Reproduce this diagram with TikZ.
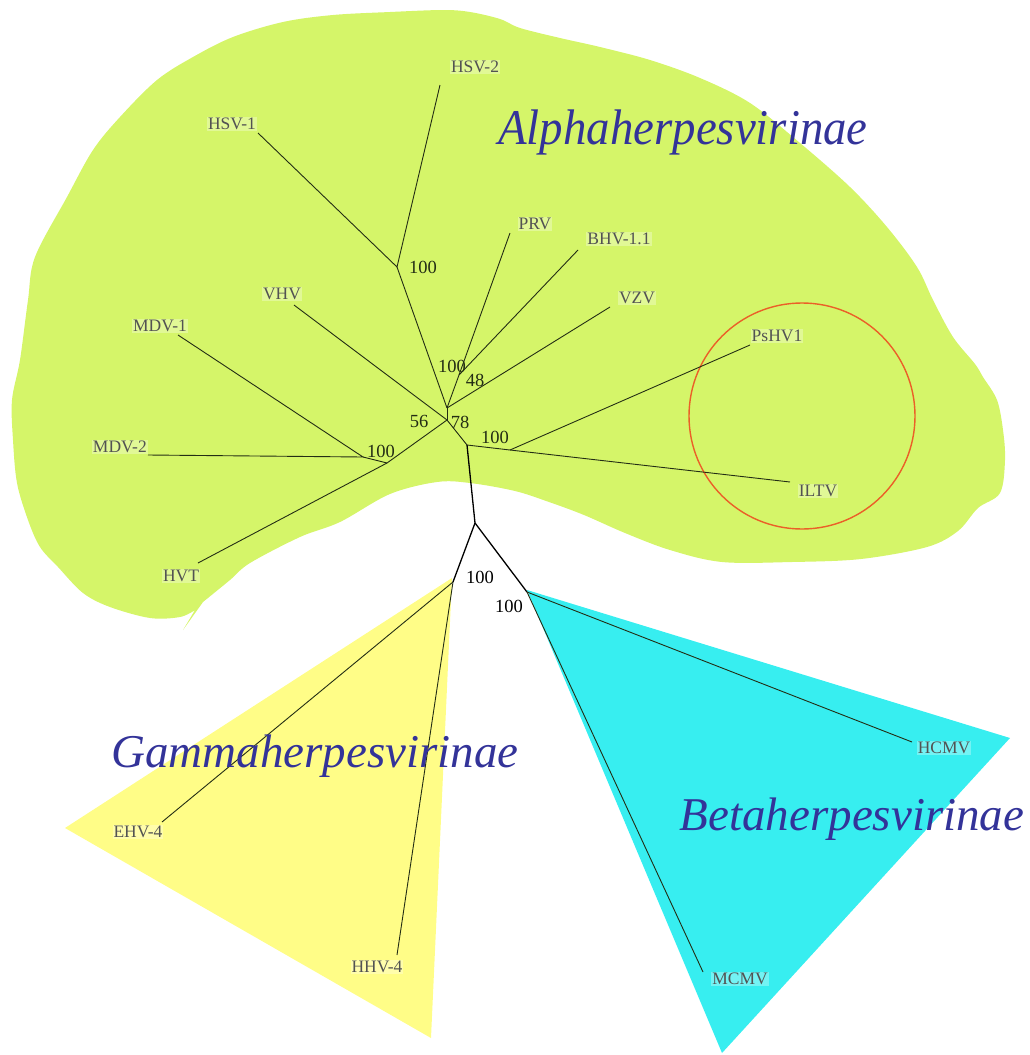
\documentclass[tikz,border=0pt]{standalone}
\usepackage{fontspec}
\setmainfont{Liberation Serif}
\definecolor{alphagreen}{RGB}{213,245,105}
\definecolor{gammayellow}{RGB}{255,253,135}
\definecolor{betacyan}{RGB}{55,238,240}
\definecolor{titleblue}{RGB}{51,51,153}
\definecolor{ringred}{RGB}{235,95,40}
\definecolor{branchcol}{RGB}{35,45,20}
\tikzset{
  branch/.style={line width=0.9pt, draw=branchcol},
  trunk/.style={line width=1.3pt, draw=black},
  taxon/.style={font=\fontsize{17.5}{20}\selectfont, text=black!68, inner sep=1pt,
                fill=white, fill opacity=0.3, text opacity=1},
  boot/.style={font=\fontsize{18.5}{20}\selectfont, text=branchcol, inner sep=0pt},
  bootroot/.style={font=\fontsize{18.5}{20}\selectfont, text=black, inner sep=0pt},
  grouptitle/.style={text=titleblue, inner sep=0pt, anchor=base},
}
\begin{document}
\begin{tikzpicture}[x=1pt,y=-1pt]
\useasboundingbox (0,0) rectangle (1029,1055);
% ---------- coloured regions ----------
\fill[alphagreen] plot[smooth,tension=0.55] coordinates {
  (203,602) (230,580) (250,563) (300,537) (340,522) (390,494) (437,482)
  (470,483) (515,491) (549,502) (584,515) (625,533) (670,550) (722,562)
  (792,562) (861,559) (927,547) (958,531) (978,508) (1000,493) (1005,460)
  (1003,430) (997,400) (983,377) (975,364) (953,337) (933,300) (917,267)
  (887,227) (850,187) (800,143) (750,103) (700,78) (650,60) (600,47)
  (560,38) (520,28) (500,19) (470,12) (443,10) (390,12) (333,15) (283,22)
  (233,37) (193,57) (157,80) (120,117) (93,150) (67,197) (35,257) (28,300)
  (20,360) (12,400) (13,440) (17,483) (28,520) (40,547) (58,567) (83,593)
  (110,607) (150,618) (180,617) (195,610)}
  -- (183,630) -- cycle;
\fill[gammayellow] (452,578) -- (65,828) -- (431,1038) -- cycle;
\fill[betacyan] (527,590) -- (1010,738) -- (722,1053) -- cycle;
\draw[ringred, line width=1.4pt] (802,416) circle[radius=113];
% ---------- tree points ----------
\coordinate (hsv2) at (440,85);
\coordinate (hsv1) at (258,133);
\coordinate (nA) at (397,267);
\coordinate (nV) at (447,408);
\coordinate (prv) at (510,233);
\coordinate (n48) at (459,375);
\coordinate (bhv) at (578,250);
\coordinate (vzv) at (610,307);
\coordinate (vhv) at (294,305);
\coordinate (nE) at (447,420);
\coordinate (mdv1) at (178,335);
\coordinate (mdv2) at (148,455);
\coordinate (nM1) at (363,457);
\coordinate (nM2) at (387,463);
\coordinate (hvt) at (198,563);
\coordinate (nD) at (467,445);
\coordinate (nI) at (510,450);
\coordinate (pshv) at (750,345);
\coordinate (iltv) at (790,482);
\coordinate (nR) at (475,523);
\coordinate (nG) at (453,582);
\coordinate (ehv) at (162,822);
\coordinate (hhv) at (397,955);
\coordinate (nB) at (527,592);
\coordinate (hcmv) at (912,742);
\coordinate (mcmv) at (703,972);
% ---------- branches ----------
\draw[branch] (hsv2) -- (nA) -- (hsv1);
\draw[branch] (nA) -- (nV);
\draw[branch] (prv) -- (n48) -- (nV);
\draw[branch] (bhv) -- (n48);
\draw[branch] (vzv) -- (nV);
\draw[branch] (nV) -- (nE);
\draw[branch] (vhv) -- (nE);
\draw[branch] (mdv1) -- (nM1) -- (mdv2);
\draw[branch] (nM1) -- (nM2);
\draw[branch] (hvt) -- (nM2) -- (nE);
\draw[branch] (nE) -- (nD);
\draw[branch] (nD) -- (nI) -- (iltv);
\draw[branch] (nI) -- (pshv);
\draw[trunk] (nD) -- (nR);
\draw[trunk] (nR) -- (nG);
\draw[trunk] (nR) -- (nB);
\draw[branch] (nG) -- (ehv);
\draw[branch] (nG) -- (hhv);
\draw[branch] (nB) -- (hcmv);
\draw[branch] (nB) -- (mcmv);
% ---------- taxon labels ----------
\node[taxon] (Lhsv2) at (475,67) {HSV-2};
\node[taxon] (Lhsv1) at (232,124) {HSV-1};
\node[taxon] (Lprv) at (535,224) {PRV};
\node[taxon] (Lbhv) at (619,239) {BHV-1.1};
\node[taxon] (Lvzv) at (637,298) {VZV};
\node[taxon] (Lvhv) at (282,294) {VHV};
\node[taxon] (Lmdv1) at (160,326) {MDV-1};
\node[taxon, anchor=east] (Lmdv2) at (148,447) {MDV-2};
\node[taxon] (Lhvt) at (181,576) {HVT};
\node[taxon] (Lpshv) at (777,336) {PsHV1};
\node[taxon] (Liltv) at (818,491) {ILTV};
\node[taxon] (Lehv) at (138,832) {EHV-4};
\node[taxon] (Lhhv) at (377,967) {HHV-4};
\node[taxon] (Lhcmv) at (944,748) {HCMV};
\node[taxon] (Lmcmv) at (740,979) {MCMV};
% ---------- bootstrap values ----------
\node[boot] (b1) at (423,267) {100};
\node[boot] (b2) at (452,366) {100};
\node[boot] (b3) at (475,380) {48};
\node[boot] (b4) at (419,421) {56};
\node[boot] (b5) at (460,422) {78};
\node[boot] (b6) at (381,451) {100};
\node[boot] (b7) at (495,437) {100};
\node[bootroot] (b8) at (480,577) {100};
\node[bootroot] (b9) at (509,606) {100};
% ---------- group titles ----------
\node[grouptitle, font=\fontsize{50}{56}\selectfont\itshape, xscale=0.937] (Talpha) at (683,144) {Alphaherpesvirinae};
\node[grouptitle, font=\fontsize{47}{54}\selectfont\itshape] (Tgamma) at (315,767) {Gammaherpesvirinae};
\node[grouptitle, font=\fontsize{47}{54}\selectfont\itshape] (Tbeta) at (852,830) {Betaherpesvirinae};
\end{tikzpicture}
\end{document}
